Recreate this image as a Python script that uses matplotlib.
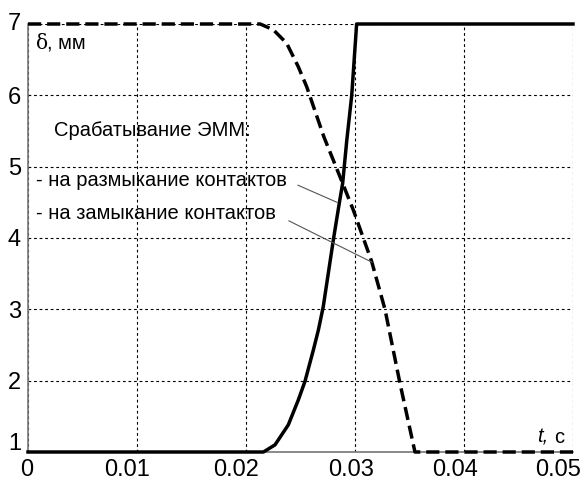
import matplotlib
matplotlib.use("Agg")
import matplotlib.pyplot as plt
import matplotlib.transforms as mtransforms

# Solid curve: контакты размыкание
t_open = [0.0, 0.0216, 0.02266, 0.02388, 0.0248, 0.02541, 0.02618, 0.02664, 0.02709,
          0.02801, 0.02856, 0.02887, 0.02924, 0.0297, 0.03015, 0.05]
d_open = [1.0, 1.0, 1.10, 1.38, 1.73, 1.99, 2.43, 2.71, 3.04,
          3.97, 4.49, 4.77, 5.36, 6.0, 7.0, 7.0]

# Dashed curve: замыкание
t_close = [0.0, 0.0213, 0.0225, 0.02373, 0.0248, 0.02557, 0.02714, 0.02862, 0.02985,
           0.03153, 0.03275, 0.03413, 0.0355, 0.05]
d_close = [7.0, 7.0, 6.92, 6.73, 6.40, 6.12, 5.42, 4.86, 4.39,
           3.67, 3.0, 1.96, 1.0, 1.0]

x_ticks = [0, 0.01, 0.02, 0.03, 0.04, 0.05]
x_labels = ["0", "0.01", "0.02", "0.03", "0.04", "0.05"]
y_ticks = [1, 2, 3, 4, 5, 6, 7]
y_labels = ["1", "2", "3", "4", "5", "6", "7"]

plt.rcParams['font.family'] = ['Liberation Sans', 'DejaVu Sans']

fig = plt.figure(figsize=(5.86, 4.80), dpi=100)
ax = fig.add_axes([28/586, 28/480, (573-28)/586, (452-24)/480])
ax.set_xlim(0, 0.05)
ax.set_ylim(1, 7)

ax.grid(True, color='black', linestyle=(0, (2.5, 2.5)), linewidth=0.8)
ax.set_axisbelow(True)

ax.plot(t_close, d_close, color='black', lw=2.5, linestyle=(0, (3.8, 1.7)),
        clip_on=False, zorder=3, solid_capstyle='butt', dash_capstyle='butt')
ax.plot(t_open, d_open, color='black', lw=2.5, clip_on=False, zorder=4)

for s in ['top', 'right']:
    ax.spines[s].set_visible(False)
for s in ['left', 'bottom']:
    ax.spines[s].set_color('#777777')
    ax.spines[s].set_linewidth(1.2)

ax.set_xticks(x_ticks)
ax.set_xticklabels(x_labels)
ax.set_yticks(y_ticks)
ax.set_yticklabels(y_labels)
ax.tick_params(axis='both', length=0, labelsize=17)
ax.tick_params(axis='x', pad=5)
ax.tick_params(axis='y', pad=5)

# label offsets (pixels) as placed in the reference
x_label_shift = [-1, -10, -10, -4, -9, -15]
for lab, dx in zip(ax.get_xticklabels(), x_label_shift):
    lab.set_transform(lab.get_transform() +
                      mtransforms.ScaledTranslation(dx / 100, 0, fig.dpi_scale_trans))
y_label_shift = [10, 0, 0, 0, 0, 0, 2]
for lab, dy in zip(ax.get_yticklabels(), y_label_shift):
    lab.set_transform(lab.get_transform() +
                      mtransforms.ScaledTranslation(0, dy / 100, fig.dpi_scale_trans))

fs = 14.5
ax.text(0.0007, 6.73, "δ", fontsize=fs, va='center', ha='left',
        family='DejaVu Serif')
ax.text(0.0017, 6.73, ", мм", fontsize=fs, va='center', ha='left')
ax.text(0.0024, 5.51, "Срабатывание ЭММ:", fontsize=fs, va='center', ha='left')
ax.text(0.0007, 4.81, "- на размыкание контактов", fontsize=fs, va='center', ha='left')
ax.text(0.0007, 4.35, "- на замыкание контактов", fontsize=fs, va='center', ha='left')
ax.text(0.0492, 1.21, "c", fontsize=fs, va='center', ha='right')
ax.text(0.0477, 1.21, "t,", fontsize=fs, va='center', ha='right', style='italic')

ax.plot([0.02477, 0.02835], [4.74, 4.50], color='#555555', lw=0.8, zorder=5)
ax.plot([0.02394, 0.03156], [4.24, 3.66], color='#555555', lw=0.8, zorder=5)

fig.savefig("out.png", dpi=100)
